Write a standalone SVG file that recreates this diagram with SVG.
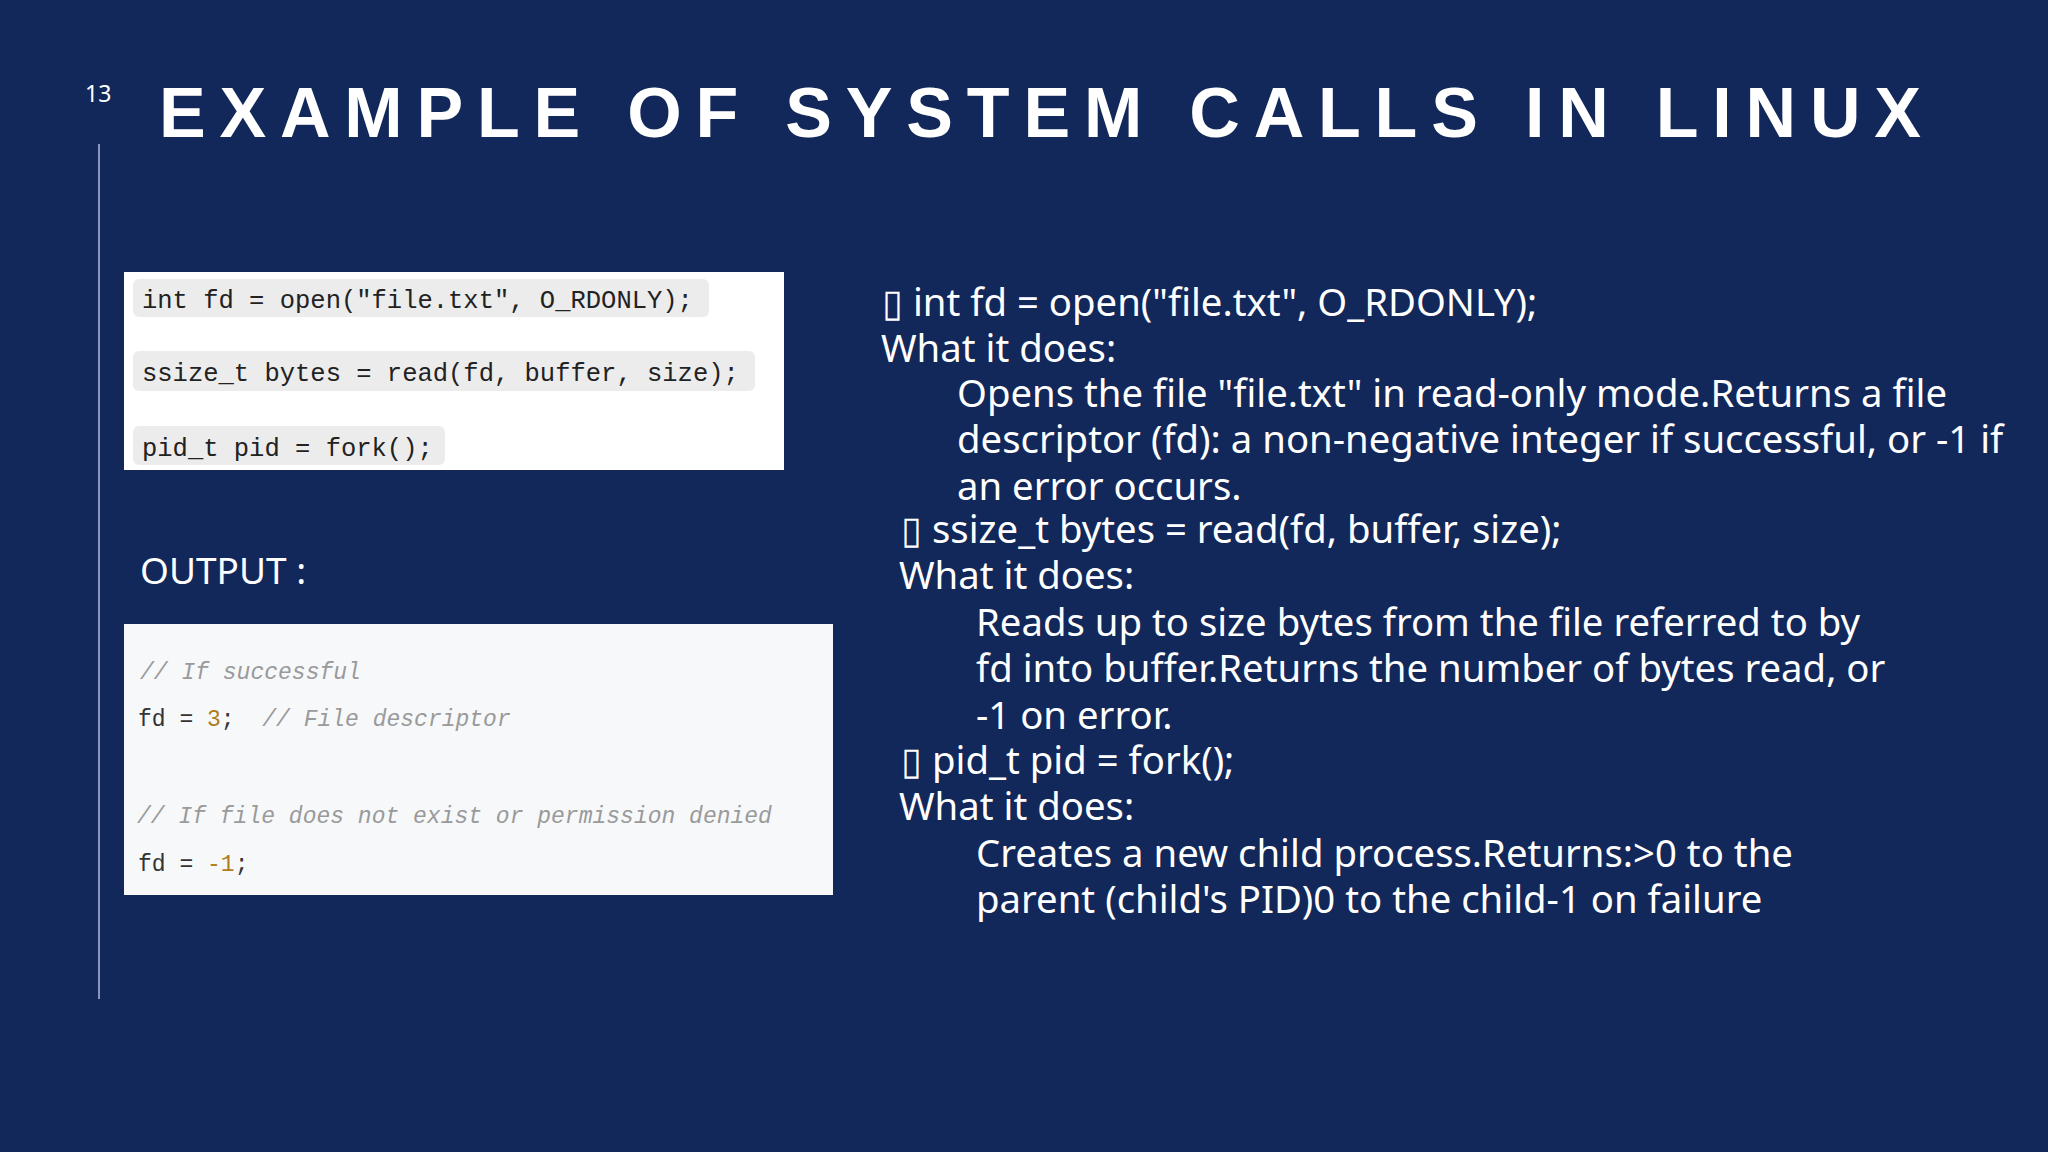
<svg xmlns="http://www.w3.org/2000/svg" width="2048" height="1152" viewBox="0 0 2048 1152">
<style>
.code{font-family:"Liberation Mono","DejaVu Sans Mono",monospace;font-size:25.5px;fill:#222}
.out{font-family:"Liberation Mono","DejaVu Sans Mono",monospace;font-size:23px;fill:#333}
.cm{fill:#9a9a9a;font-style:italic}
.num{fill:#b07d1e}
.chip{fill:#ececec}
.rt{font-family:"Noto Sans","Open Sans",sans-serif;font-size:38.3px;fill:#fff}
</style>
<rect width="2048" height="1152" fill="#12285a"/>
<text x="85" y="102" font-family="Noto Sans, sans-serif" font-size="23" fill="#fff">13</text>
<line x1="99" y1="144" x2="99" y2="999" stroke="#8a96b8" stroke-width="2"/>
<text x="159" y="137" font-family="Liberation Sans, Arial, sans-serif" font-weight="bold" font-size="70" fill="#fff" textLength="1762" lengthAdjust="spacing">EXAMPLE OF SYSTEM CALLS IN LINUX</text>
<g id="code-box">
<rect x="124" y="272" width="660" height="198" fill="#fff"/>
<rect class="chip" x="133" y="279" width="576" height="38" rx="6"/>
<rect class="chip" x="133" y="351" width="622" height="40" rx="6"/>
<rect class="chip" x="133" y="426" width="312" height="39" rx="6"/>
<text class="code" x="142" y="308">int fd = open("file.txt", O_RDONLY);</text>
<text class="code" x="142" y="381">ssize_t bytes = read(fd, buffer, size);</text>
<text class="code" x="142" y="456">pid_t pid = fork();</text>
</g>
<text x="140" y="584" font-family="Noto Sans, sans-serif" font-size="37" fill="#fff">OUTPUT :</text>
<g id="output-box">
<rect x="124" y="624" width="709" height="271" fill="#f6f8fa"/>
<text class="out cm" x="140" y="679">// If successful</text>
<text class="out" x="138" y="726" xml:space="preserve">fd = <tspan class="num">3</tspan>;  <tspan class="cm">// File descriptor</tspan></text>
<text class="out cm" x="137" y="823">// If file does not exist or permission denied</text>
<text class="out" x="138" y="871">fd = <tspan class="num">-1</tspan>;</text>
</g>
<g id="explanation">
<text class="rt" x="882" y="316">▯ int fd = open("file.txt", O_RDONLY);</text>
<text class="rt" x="881" y="362">What it does:</text>
<text class="rt" x="957" y="407">Opens the file "file.txt" in read-only mode.Returns a file</text>
<text class="rt" x="957" y="453">descriptor (fd): a non-negative integer if successful, or -1 if</text>
<text class="rt" x="957" y="500">an error occurs.</text>
<text class="rt" x="901" y="543">▯ ssize_t bytes = read(fd, buffer, size);</text>
<text class="rt" x="899" y="589">What it does:</text>
<text class="rt" x="976" y="636">Reads up to size bytes from the file referred to by</text>
<text class="rt" x="976" y="682">fd into buffer.Returns the number of bytes read, or</text>
<text class="rt" x="976" y="729">-1 on error.</text>
<text class="rt" x="901" y="774">▯ pid_t pid = fork();</text>
<text class="rt" x="899" y="820">What it does:</text>
<text class="rt" x="976" y="867">Creates a new child process.Returns:&gt;0 to the</text>
<text class="rt" x="976" y="913">parent (child's PID)0 to the child-1 on failure</text>
</g>
</svg>
